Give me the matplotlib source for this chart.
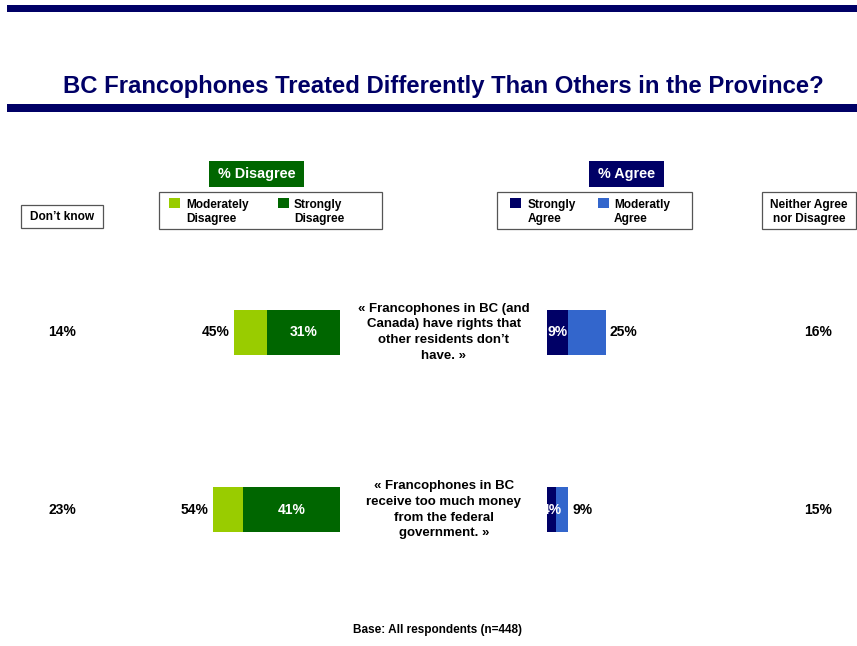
import matplotlib
matplotlib.use("Agg")
import matplotlib.pyplot as plt
from matplotlib.patches import Rectangle
import matplotlib.transforms as mtransforms

plt.rcParams['font.family'] = ['Liberation Sans', 'DejaVu Sans']

# ---- data ----
statements = [
    "« Francophones in BC (and\nCanada) have rights that\nother residents don\u2019t\nhave. »",
    "« Francophones in BC\nreceive too much money\nfrom the federal\ngovernment. »",
]
dont_know = [14, 23]
disagree_total = [45, 54]
strongly_disagree = [31, 41]
strongly_agree = [9, 4]
agree_total = [25, 9]
neither = [16, 15]

title = "BC Francophones Treated Differently Than Others in the Province?"
base_note = "Base: All respondents (n=448)"

NAVY = "#000066"
LGREEN = "#99CC00"
DGREEN = "#006600"
BLUE = "#3366CC"

W, H = 857, 646
fig = plt.figure(figsize=(W / 100, H / 100), dpi=100)

# overlay axes in pixel coordinates
ov = fig.add_axes([0, 0, 1, 1])
ov.set_xlim(0, W)
ov.set_ylim(H, 0)
ov.axis('off')

def px_axes(left, top, width, height):
    return fig.add_axes([left / W, (H - top - height) / H, width / W, height / H])

PX_PER_PCT = 2.36
span = 240 / PX_PER_PCT
axL = px_axes(100, 243.5, 240, 355)
axR = px_axes(547, 243.5, 240, 355)
rows = list(range(len(statements)))
bh = 45 / 177.5
for ax in (axL, axR):
    ax.set_ylim(len(rows) - 0.5, -0.5)
    ax.axis('off')
    ax.patch.set_alpha(0)
axL.set_xlim(span, 0)
axR.set_xlim(0, span)

moderately_disagree = [t - s for t, s in zip(disagree_total, strongly_disagree)]
moderately_agree = [t - s for t, s in zip(agree_total, strongly_agree)]

axL.barh(rows, strongly_disagree, height=bh, color=DGREEN)
axL.barh(rows, moderately_disagree, left=strongly_disagree, height=bh, color=LGREEN)
axR.barh(rows, strongly_agree, height=bh, color=NAVY)
axR.barh(rows, moderately_agree, left=strongly_agree, height=bh, color=BLUE)

fs = 10
for i in rows:
    axL.text(strongly_disagree[i] / 2, i, f"{strongly_disagree[i]}%", color='white',
             ha='center', va='center', fontsize=fs, fontweight='bold')
    axL.annotate(f"{disagree_total[i]}%", xy=(disagree_total[i], i), xytext=(-4, 0),
                 textcoords='offset pixels', ha='right', va='center', fontsize=fs,
                 fontweight='bold')
    axR.text(strongly_agree[i] / 2, i, f"{strongly_agree[i]}%", color='white',
             ha='center', va='center', fontsize=fs, fontweight='bold')
    axR.annotate(f"{agree_total[i]}%", xy=(agree_total[i], i), xytext=(4, 0),
                 textcoords='offset pixels', ha='left', va='center', fontsize=fs,
                 fontweight='bold')

blend = mtransforms.blended_transform_factory(ov.transData, axL.transData)
for i in rows:
    ov.text(62, i, f"{dont_know[i]}%", transform=blend, ha='center', va='center',
            fontsize=fs, fontweight='bold')
    ov.text(818, i, f"{neither[i]}%", transform=blend, ha='center', va='center',
            fontsize=fs, fontweight='bold')
    ov.text(444, i, statements[i], transform=blend, ha='center', va='center',
            fontsize=9.5, fontweight='bold', linespacing=1.42)

# decorations
ov.add_patch(Rectangle((7, 5), 850, 7, color=NAVY, lw=0))
ov.add_patch(Rectangle((7, 104), 850, 8, color=NAVY, lw=0))
ov.text(443.5, 93, title, ha='center', va='baseline', fontsize=17.2, fontweight='bold', color=NAVY)

# headers
ov.add_patch(Rectangle((209, 161), 95, 26, color=DGREEN, lw=0))
ov.text(256.5, 174, "% Disagree", ha='center', va='center', color='white', fontsize=10.4, fontweight='bold')
ov.add_patch(Rectangle((589, 161), 75, 26, color=NAVY, lw=0))
ov.text(626.5, 174, "% Agree", ha='center', va='center', color='white', fontsize=10.4, fontweight='bold')

# legend boxes
box_kw = dict(fill=False, ec='#555555', lw=0.9)
ov.add_patch(Rectangle((159, 192), 223, 37, **box_kw))
ov.add_patch(Rectangle((497, 192), 195, 37, **box_kw))
ov.add_patch(Rectangle((21, 205), 82, 23, **box_kw))
ov.add_patch(Rectangle((762, 192), 94, 37, **box_kw))

lfs = 8.6
legend_items = [
    (169, LGREEN, "Moderately\nDisagree", 186),
    (278, DGREEN, "Strongly\nDisagree", 294),
    (510, NAVY, "Strongly\nAgree", 528),
    (598, BLUE, "Moderatly\nAgree", 614),
]
for sx, col, lab, tx in legend_items:
    ov.add_patch(Rectangle((sx, 198), 11, 10, color=col, lw=0))
    ov.text(tx, 212, lab, ha='left', va='center', fontsize=lfs, fontweight='bold', linespacing=1.3)

ov.text(62.5, 217, "Don\u2019t know", ha='center', va='center', fontsize=lfs, fontweight='bold')
ov.text(809, 212, "Neither Agree\nnor Disagree", ha='center', va='center', fontsize=lfs,
        fontweight='bold', linespacing=1.3)

ov.text(438, 630, base_note, ha='center', va='center', fontsize=8.5, fontweight='bold')

fig.savefig("out.png", dpi=100)
